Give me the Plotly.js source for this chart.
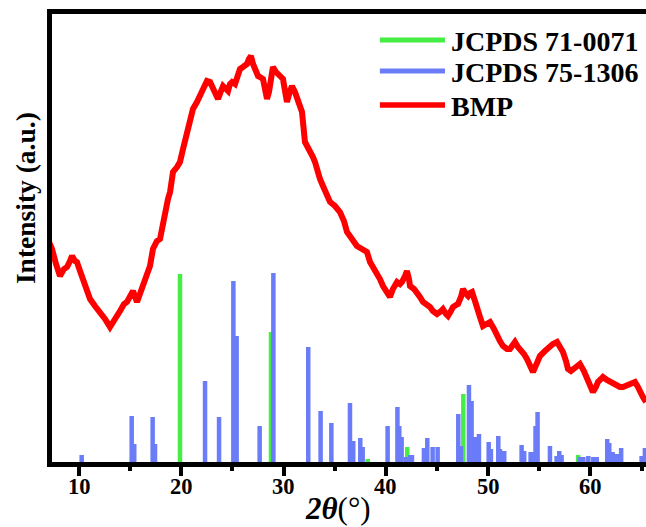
<!DOCTYPE html>
<html>
<head>
<meta charset="utf-8">
<script src="https://cdn.plot.ly/plotly-3.0.1.min.js"></script>
<style>html,body{margin:0;padding:0;background:#fff;}#chart{width:646px;height:527px;}</style>
</head>
<body>
<div id="chart"></div>
<script>
// BMP XRD pattern (2θ in degrees, intensity in arbitrary units)
const bmpTheta = [
7.07,7.36,7.75,8.14,8.53,8.83,9.12,9.32,9.61,9.80,
10.10,10.39,10.78,11.08,11.56,12.05,12.54,13.03,13.32,13.52,
14.01,14.40,14.69,14.99,15.28,15.67,15.96,16.26,16.65,16.94,
17.23,17.62,17.92,18.21,18.41,18.70,18.90,19.19,19.58,19.87,
20.17,20.36,20.66,20.95,21.14,21.53,21.83,22.12,22.51,22.81,
23.20,23.59,23.88,24.08,24.37,24.57,24.76,24.96,25.25,25.44,
25.74,26.03,26.42,26.62,26.81,27.01,27.20,27.50,27.69,27.99,
28.18,28.38,28.57,28.67,28.96,29.26,29.65,29.94,30.14,30.33,
30.63,30.82,31.11,31.31,31.60,31.80,32.09,32.39,32.58,32.87,
33.07,33.36,33.56,33.85,34.24,34.54,35.02,35.51,35.90,36.20,
36.69,37.17,37.66,38.15,38.45,38.84,39.13,39.42,39.72,40.11,
40.40,40.69,41.09,41.38,41.57,41.87,42.06,42.26,42.36,42.75,
43.04,43.33,43.63,44.02,44.31,44.60,45.00,45.29,45.58,45.87,
46.07,46.36,46.56,46.85,47.05,47.34,47.54,47.83,48.03,48.22,
48.42,48.71,48.91,49.20,49.49,49.88,50.18,50.57,50.86,51.15,
51.45,51.84,52.13,52.42,52.62,52.91,53.11,53.50,53.79,54.09,
54.38,54.77,55.06,55.55,56.04,56.33,56.73,57.02,57.31,57.61,
57.80,58.09,58.29,58.68,58.97,59.36,59.66,59.95,60.24,60.54,
60.73,61.03,61.22,61.61,61.91,62.30,62.59,62.88,63.18,63.57,
63.86,64.15,64.35,64.64,64.84,65.13,65.43];
const bmpIntensity = [
220,213,198,186,193,195,201,206,201,200,
191,183,171,163,156,150,143,135,141,143,
151,158,160,167,171,160,169,176,189,196,
213,221,223,241,253,263,270,290,295,300,
313,320,336,345,353,360,366,373,381,380,
371,363,371,376,373,371,378,380,378,383,
393,395,398,403,406,398,393,386,385,383,
373,363,370,376,395,390,386,383,371,360,
371,376,370,363,355,350,320,315,310,305,
300,286,283,276,268,260,256,250,241,230,
223,216,213,210,200,193,190,183,176,168,
165,173,180,178,180,186,191,183,176,173,
170,165,160,158,155,151,148,150,153,148,
146,151,155,157,158,165,173,168,166,169,
170,161,153,145,136,138,140,133,126,121,
116,113,113,117,120,115,113,108,103,96,
90,99,106,111,116,118,120,115,110,101,
93,91,93,96,98,91,83,76,70,75,
80,83,85,82,80,78,76,75,75,77,
78,79,80,75,70,65,60];

// Reference pattern JCPDS 75-1306 (stick positions and heights)
const ref75Theta = [10.26,15.15,15.40,17.20,17.43,22.32,23.69,25.09,25.41,27.66,29.00,32.41,33.62,34.67,36.49,36.81,37.50,37.73,40.17,41.13,41.31,41.54,41.96,42.36,42.55,43.72,44.05,44.57,45.06,47.08,47.34,48.12,48.38,48.71,49.10,50.05,50.27,50.99,51.15,51.57,53.27,53.52,54.15,54.34,54.63,54.83,56.04,56.69,56.95,57.18,58.97,59.30,59.79,60.28,60.61,61.64,61.84,62.17,62.40,62.62,63.00,65.00,65.32];
const ref75Int = [7,46,18,45,18,81,45,181,126,36,189,115,51,39,59,21,24,15,36,55,36,25,5,7,7,14,24,15,15,48,16,77,61,25,28,20,13,26,13,11,17,11,10,10,36,50,16,6,11,7,5,5,6,5,5,23,19,10,8,8,14,6,14];

// Reference pattern JCPDS 71-0071
const ref71Theta = [19.87,28.77,38.22,42.09,47.57,58.80];
const ref71Int = [188,130,3,15,68,7];

const seriesNames = ['JCPDS 71-0071','JCPDS 75-1306','BMP'];
const seriesColors = ['#44EE44','#6A7CF8','#FF0000'];
const xTicks = [10,20,30,40,50,60];
const xTickLabels = ['10','20','30','40','50','60'];
const xTitle = '<b><i>2θ</i></b>(°)';
const yTitle = '<b>Intensity (a.u.)</b>';

function sticks(xs, ys){
  const X=[],Y=[];
  for(let i=0;i<xs.length;i++){X.push(xs[i],xs[i],null);Y.push(0,ys[i],null);}
  return {x:X,y:Y};
}
const s71 = sticks(ref71Theta, ref71Int);
const s75 = sticks(ref75Theta, ref75Int);

const FONT = 'Liberation Serif';

const data = [
  {x:s71.x, y:s71.y, type:'scatter', mode:'lines', name:seriesNames[0],
   line:{color:seriesColors[0], width:4.5}, connectgaps:false},
  {x:s75.x, y:s75.y, type:'scatter', mode:'lines', name:seriesNames[1],
   line:{color:seriesColors[1], width:4.5}, connectgaps:false},
  {x:bmpTheta, y:bmpIntensity, type:'scatter', mode:'lines', name:seriesNames[2],
   line:{color:seriesColors[2], width:6}}
];

// legend drawn manually (paper coordinates)
const legY = [0.9420, 0.8728, 0.7969];
const shapes = [], annotations = [];
for (let i=0;i<3;i++){
  shapes.push({type:'line', xref:'paper', yref:'paper', x0:0.552, x1:0.6616, y0:legY[i], y1:legY[i],
    line:{color:seriesColors[i], width:i===2?5.5:5}, layer:'above'});
  annotations.push({xref:'paper', yref:'paper', x:0.668, y:legY[i]-0.003, xanchor:'left', yanchor:'middle',
    showarrow:false, text:seriesNames[i], font:{family:FONT, size:28, weight:'bold', color:'#000'}});
}
// tick labels placed on the x data scale, below the axis
for (let i=0;i<xTicks.length;i++){
  annotations.push({xref:'x', yref:'paper', x:xTicks[i], y:-0.0536, xanchor:'center', yanchor:'middle',
    showarrow:false, text:'<b>'+xTickLabels[i]+'</b>', font:{family:FONT, size:22.5, color:'#000'}});
}
// axis titles placed as annotations to match the reference placement
annotations.push({xref:'paper', yref:'paper', x:0.481, y:-0.103, xanchor:'center', yanchor:'middle',
  showarrow:false, text:xTitle, font:{family:FONT, size:31, color:'#000'}});
annotations.push({xref:'paper', yref:'paper', x:-0.0455, y:0.589, xanchor:'center', yanchor:'middle',
  showarrow:false, textangle:-90, text:yTitle, font:{family:FONT, size:27.5, color:'#000'}});

const layout = {
  width:646, height:527,
  margin:{l:52, r:0, t:14, b:65},
  paper_bgcolor:'#fff', plot_bgcolor:'#fff',
  font:{family:FONT, color:'#000'},
  showlegend:false,
  shapes:shapes, annotations:annotations,
  xaxis:{range:[7.36,65.43], tickvals:xTicks, showticklabels:false, ticks:'outside', ticklen:9, tickwidth:4, tickcolor:'#000',
    minor:{dtick:5, tick0:5, ticks:'outside', ticklen:4, tickwidth:4, tickcolor:'#000'},
    showline:true, linewidth:5, linecolor:'#000', mirror:true, showgrid:false, zeroline:false},
  yaxis:{range:[0,448], showticklabels:false, ticks:'', showline:true, linewidth:5, linecolor:'#000',
    showgrid:false, zeroline:false}
};

Plotly.newPlot('chart', data, layout, {displayModeBar:false, staticPlot:true});
</script>
</body>
</html>
